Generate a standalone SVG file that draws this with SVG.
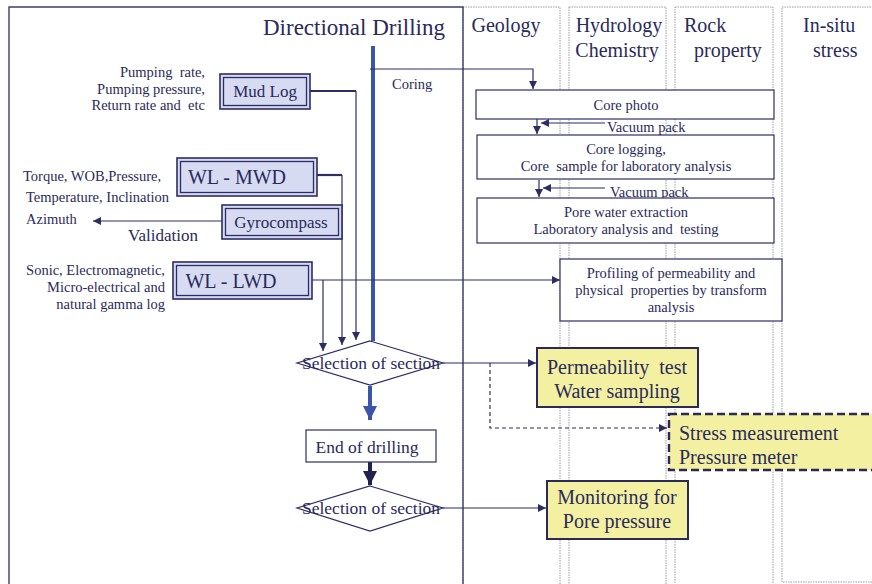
<svg xmlns="http://www.w3.org/2000/svg" width="872" height="584" viewBox="0 0 872 584">
  <style>
    text { font-family: "Liberation Serif", "Times New Roman", serif; fill: #2a2a5c; white-space: pre; }
    .col { fill: none; stroke: #9c9cab; stroke-width: 1; stroke-dasharray: 1.5 1; }
    .frame { fill: none; stroke: #3e3e70; stroke-width: 1.4; }
    .ln { fill: none; stroke: #2d2d66; stroke-width: 1.2; }
    .ln2 { fill: none; stroke: #2d2d66; stroke-width: 2.2; }
    .box { fill: #ffffff; stroke: #2d2d66; stroke-width: 1.2; }
    .tool-out { fill: #d6dbf1; stroke: #2d2d66; stroke-width: 1.6; }
    .tool-in { fill: none; stroke: #2d2d66; stroke-width: 1.3; }
    .yel { fill: #f4f0a2; stroke: #2a2a55; stroke-width: 2; }
    .yel-dash { fill: #f4f0a2; stroke: #2a2a55; stroke-width: 2.4; stroke-dasharray: 8 4; }
    .dia { fill: #ffffff; stroke: #2d2d66; stroke-width: 1.2; }
    .blue { fill: none; stroke: #3a56a8; stroke-width: 4; }
    .dash { fill: none; stroke: #2d2d66; stroke-width: 1.2; stroke-dasharray: 4 3; }
    .s { font-size: 14.5px; }
    .m { font-size: 17px; }
    .l { font-size: 20px; }
  </style>
  <defs>
    <marker id="arr" viewBox="0 0 10 10" refX="10" refY="5" markerWidth="8" markerHeight="8" markerUnits="userSpaceOnUse" orient="auto">
      <path d="M0,0 L10,5 L0,10 z" fill="#2d2d66"/>
    </marker>
    <marker id="arrBlue" viewBox="0 0 10 10" refX="10" refY="5" markerWidth="14" markerHeight="14" markerUnits="userSpaceOnUse" orient="auto">
      <path d="M0,0 L10,5 L0,10 z" fill="#3a56a8"/>
    </marker>
    <marker id="arrNavy" viewBox="0 0 10 10" refX="10" refY="5" markerWidth="14" markerHeight="14" markerUnits="userSpaceOnUse" orient="auto">
      <path d="M0,0 L10,5 L0,10 z" fill="#22224f"/>
    </marker>
  </defs>

  <rect width="872" height="584" fill="#ffffff"/>

  <!-- Swimlane columns -->
  <g id="lanes">
    <rect class="col" x="463" y="7" width="97" height="590"/>
    <rect class="col" x="569" y="7" width="97" height="590"/>
    <rect class="col" x="675" y="7" width="98" height="590"/>
    <rect class="col" x="782" y="7" width="100" height="575"/>
    <path class="frame" d="M9,600 V7 H463 V600"/>
    <text x="354" y="35" font-size="23" text-anchor="middle">Directional Drilling</text>
    <text x="506" y="32" class="l" text-anchor="middle">Geology</text>
    <text x="619" y="32" class="l" text-anchor="middle">Hydrology</text>
    <text x="617" y="57" class="l" text-anchor="middle">Chemistry</text>
    <text x="684" y="32" class="l">Rock</text>
    <text x="694" y="57" class="l">property</text>
    <text x="803" y="32" class="l">In-situ</text>
    <text x="813" y="57" class="l">stress</text>
  </g>

  <!-- Connectors -->
  <g id="connectors">
    <path class="blue" d="M373,46 V341"/>
    <path class="ln" d="M370,69 H533 V89" marker-end="url(#arr)"/>
    <path class="ln2" d="M310,91 H356"/>
    <path class="ln" d="M356,91 V340" marker-end="url(#arr)"/>
    <path class="ln2" d="M317,175 H342"/>
    <path class="ln" d="M342,175 V345" marker-end="url(#arr)"/>
    <path class="ln" d="M222,221 H93" marker-end="url(#arr)"/>
    <path class="ln" d="M312,280 H560" marker-end="url(#arr)"/>
    <path class="ln" d="M323,280 V351" marker-end="url(#arr)"/>
    <path class="ln" d="M537,119 V134" marker-end="url(#arr)"/>
    <path class="ln" d="M605,123 H541" marker-end="url(#arr)"/>
    <path class="ln" d="M539,180 V197" marker-end="url(#arr)"/>
    <path class="ln" d="M605,188 H543" marker-end="url(#arr)"/>
    <path class="ln" d="M443,363 H536" marker-end="url(#arr)"/>
    <path class="dash" d="M490,363 V428 H667" marker-end="url(#arr)"/>
    <path class="blue" d="M370,386 V420" marker-end="url(#arrBlue)"/>
    <path fill="none" stroke="#22224f" stroke-width="4" d="M370,462 V485" marker-end="url(#arrNavy)"/>
    <path class="ln" d="M443,508 H546" marker-end="url(#arr)"/>
    <text x="392" y="89" class="s">Coring</text>
    <text x="607" y="132" class="s">Vacuum pack</text>
    <text x="610" y="197" class="s">Vacuum pack</text>
    <text x="128" y="241" class="m">Validation</text>
  </g>

  <!-- Sensor / logging sources -->
  <g id="mud-log">
    <rect class="tool-out" x="220" y="74" width="90" height="35"/>
    <rect class="tool-in" x="223.5" y="77.5" width="83" height="28"/>
    <text x="265" y="97" class="m" text-anchor="middle">Mud Log</text>
    <text x="205" y="77" class="s" text-anchor="end">Pumping  rate,</text>
    <text x="205" y="94" class="s" text-anchor="end">Pumping pressure,</text>
    <text x="205" y="110" class="s" text-anchor="end">Return rate and  etc</text>
  </g>
  <g id="wl-mwd">
    <rect class="tool-out" x="177" y="158" width="140" height="38"/>
    <rect class="tool-in" x="180.5" y="161.5" width="133" height="31"/>
    <text x="237" y="184" class="l" text-anchor="middle">WL - MWD</text>
    <text x="23" y="181" class="s">Torque, WOB,Pressure,</text>
    <text x="26" y="202" class="s">Temperature, Inclination</text>
    <text x="26" y="224" class="s">Azimuth</text>
  </g>
  <g id="gyrocompass">
    <rect class="tool-out" x="222" y="205" width="120" height="34"/>
    <rect class="tool-in" x="225.5" y="208.5" width="113" height="27"/>
    <text x="281" y="228" class="m" text-anchor="middle">Gyrocompass</text>
  </g>
  <g id="wl-lwd">
    <rect class="tool-out" x="173" y="262" width="139" height="37"/>
    <rect class="tool-in" x="176.5" y="265.5" width="132" height="30"/>
    <text x="231" y="288" class="l" text-anchor="middle">WL - LWD</text>
    <text x="165" y="275" class="s" text-anchor="end">Sonic, Electromagnetic,</text>
    <text x="165" y="292" class="s" text-anchor="end">Micro-electrical and</text>
    <text x="165" y="309" class="s" text-anchor="end">natural gamma log</text>
  </g>

  <!-- Core workflow -->
  <g id="core-photo">
    <rect class="box" x="476" y="90" width="298" height="29"/>
    <text x="626" y="110" class="s" text-anchor="middle">Core photo</text>
  </g>
  <g id="core-logging">
    <rect class="box" x="477" y="135" width="297" height="44"/>
    <text x="626" y="154" class="s" text-anchor="middle">Core logging,</text>
    <text x="626" y="171" class="s" text-anchor="middle">Core  sample for laboratory analysis</text>
  </g>
  <g id="pore-water">
    <rect class="box" x="477" y="198" width="297" height="45"/>
    <text x="626" y="217" class="s" text-anchor="middle">Pore water extraction</text>
    <text x="626" y="234" class="s" text-anchor="middle">Laboratory analysis and  testing</text>
  </g>
  <g id="profiling">
    <rect class="box" x="560" y="259" width="222" height="62"/>
    <text x="671" y="278" class="s" text-anchor="middle">Profiling of permeability and</text>
    <text x="671" y="295" class="s" text-anchor="middle">physical  properties by transform</text>
    <text x="671" y="312" class="s" text-anchor="middle">analysis</text>
  </g>

  <!-- Decision and test steps -->
  <g id="selection-1">
    <polygon class="dia" points="370,341 443,363 370,385 297,363"/>
    <text x="371" y="369" font-size="17.5" text-anchor="middle">Selection of section</text>
  </g>
  <g id="permeability-test">
    <rect class="yel" x="537" y="348" width="161" height="59"/>
    <text x="617" y="374" class="l" text-anchor="middle">Permeability  test</text>
    <text x="617" y="398" class="l" text-anchor="middle">Water sampling</text>
  </g>
  <g id="stress-measurement">
    <rect class="yel-dash" x="669" y="414" width="215" height="56"/>
    <text x="679" y="440" class="l">Stress measurement</text>
    <text x="679" y="464" class="l">Pressure meter</text>
  </g>
  <g id="end-of-drilling">
    <rect class="box" x="306" y="430" width="130" height="32"/>
    <text x="367" y="453" font-size="17.5" text-anchor="middle">End of drilling</text>
  </g>
  <g id="selection-2">
    <polygon class="dia" points="370,486 443,508 370,531 297,508"/>
    <text x="371" y="514" font-size="17.5" text-anchor="middle">Selection of section</text>
  </g>
  <g id="pore-pressure">
    <rect class="yel" x="547" y="481" width="141" height="58"/>
    <text x="617" y="504" class="l" text-anchor="middle">Monitoring for</text>
    <text x="617" y="528" class="l" text-anchor="middle">Pore pressure</text>
  </g>
</svg>
